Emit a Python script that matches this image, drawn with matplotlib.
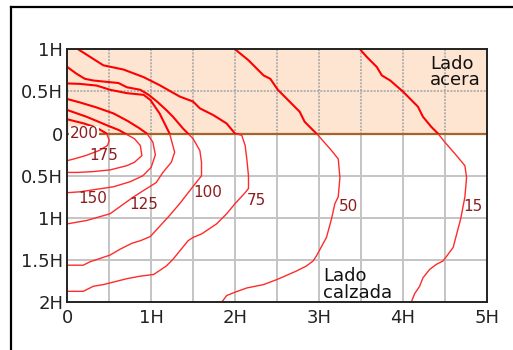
import matplotlib
matplotlib.use("Agg")
import matplotlib.pyplot as plt
from matplotlib.patches import Rectangle
from matplotlib.lines import Line2D

plt.rcParams['font.family'] = ['DejaVu Sans']

# Isolux curves: x = distance along the street (in H), d = transverse distance (in H,
# negative towards the sidewalk, positive towards the roadway)
levels = ["200", "175", "150", "125", "100", "75", "50", "15"]

x200 = [0.0, 0.20, 0.35, 0.47, 0.50, 0.48, 0.38, 0.22, 0.08, 0.0]
d200 = [-0.17, -0.12, -0.07, 0.0, 0.08, 0.14, 0.20, 0.26, 0.30, 0.32]

x175 = [0.0, 0.23, 0.47, 0.62, 0.69, 0.80, 0.87, 0.89, 0.80, 0.71, 0.51, 0.31, 0.12, 0.0]
d175 = [-0.28, -0.20, -0.10, -0.04, 0.0, 0.06, 0.14, 0.26, 0.34, 0.38, 0.43, 0.45, 0.46, 0.46]

x150 = [0.0, 0.15, 0.35, 0.55, 0.72, 0.85, 0.95, 1.02, 1.05, 1.00, 0.90, 0.75, 0.55, 0.35, 0.15, 0.0]
d150 = [-0.41, -0.37, -0.31, -0.24, -0.15, -0.07, 0.0, 0.10, 0.25, 0.40, 0.50, 0.57, 0.63, 0.66, 0.69, 0.70]

x125 = [0.0, 0.15, 0.35, 0.51, 0.71, 0.91, 0.99, 1.10, 1.22, 1.28, 1.24, 1.14, 1.06, 0.90, 0.79, 0.51, 0.23, 0.0]
d125 = [-0.595, -0.59, -0.57, -0.52, -0.48, -0.46, -0.40, -0.24, 0.0, 0.22, 0.34, 0.46, 0.58, 0.68, 0.75, 0.95, 1.03, 1.07]

x100 = [0.0, 0.11, 0.21, 0.31, 0.51, 0.61, 0.71, 0.87, 0.97, 1.07, 1.18, 1.26, 1.38, 1.44, 1.50,
        1.58, 1.60, 1.60, 1.52, 1.34, 1.22, 0.99, 0.87, 0.77, 0.63, 0.51, 0.39, 0.27, 0.19, 0.0]
d100 = [-0.79, -0.71, -0.65, -0.63, -0.61, -0.60, -0.55, -0.52, -0.46, -0.38, -0.28, -0.20, -0.06, 0.0, 0.06,
        0.20, 0.34, 0.50, 0.60, 0.83, 0.97, 1.22, 1.27, 1.30, 1.37, 1.44, 1.48, 1.52, 1.56, 1.56]

x75 = [0.13, 0.43, 0.67, 0.91, 1.10, 1.34, 1.50, 1.58, 1.74, 1.90, 2.00, 2.08, 2.12, 2.14, 2.16, 2.16,
       2.12, 2.00, 1.90, 1.78, 1.60, 1.50, 1.44, 1.26, 1.18, 1.03, 0.87, 0.71, 0.51, 0.43, 0.31, 0.19, 0.0]
d75 = [-1.0, -0.81, -0.76, -0.67, -0.575, -0.44, -0.38, -0.30, -0.22, -0.12, 0.0, 0.02, 0.14, 0.30, 0.50, 0.65,
       0.70, 0.83, 0.95, 1.07, 1.19, 1.23, 1.27, 1.49, 1.57, 1.67, 1.69, 1.72, 1.77, 1.79, 1.81, 1.87, 1.87]

x50 = [2.0, 2.16, 2.20, 2.34, 2.42, 2.51, 2.65, 2.77, 2.83, 2.99, 3.15, 3.23, 3.25, 3.23, 3.19, 3.15,
       3.09, 2.97, 2.93, 2.85, 2.73, 2.50, 2.34, 2.14, 2.0, 1.90, 1.84]
d50 = [-1.0, -0.87, -0.83, -0.69, -0.65, -0.52, -0.38, -0.26, -0.14, 0.02, 0.20, 0.30, 0.52, 0.75, 0.83, 1.01,
       1.23, 1.45, 1.51, 1.57, 1.63, 1.73, 1.79, 1.83, 1.88, 1.92, 2.0]

x15 = [3.49, 3.57, 3.69, 3.75, 3.85, 4.0, 4.18, 4.24, 4.34, 4.42, 4.50, 4.64, 4.74, 4.76, 4.74, 4.69,
       4.60, 4.48, 4.40, 4.32, 4.24, 4.20, 4.14, 4.10]
d15 = [-1.0, -0.91, -0.79, -0.69, -0.63, -0.50, -0.32, -0.20, -0.08, 0.0, 0.10, 0.26, 0.38, 0.52, 0.75, 1.01,
       1.35, 1.51, 1.55, 1.61, 1.71, 1.81, 1.90, 2.0]

curves_x = [x200, x175, x150, x125, x100, x75, x50, x15]
curves_d = [d200, d175, d150, d125, d100, d75, d50, d15]

# Label anchor points (x, d)
label_x = [0.20, 0.43, 0.30, 0.91, 1.68, 2.26, 3.35, 4.84]
label_d = [0.0, 0.26, 0.77, 0.84, 0.70, 0.79, 0.86, 0.86]

xticks = [0, 1, 2, 3, 4, 5]
xtick_labels = ["0", "1H", "2H", "3H", "4H", "5H"]
yticks = [-1, -0.5, 0, 0.5, 1, 1.5, 2]
ytick_labels = ["1H", "0.5H", "0", "0.5H", "1H", "1.5H", "2H"]

W, H = 513, 350
fig = plt.figure(figsize=(W / 100, H / 100), dpi=100)
fig.patch.set_facecolor("white")

# outer frame (open to the right and bottom)
fig.add_artist(Line2D([11 / W, 11 / W], [1 - 7 / H, 0], color="black", lw=1.6))
fig.add_artist(Line2D([11 / W, 1], [1 - 7 / H, 1 - 7 / H], color="black", lw=1.6))

ax = fig.add_axes([67.3 / W, 1 - 302.3 / H, (486.7 - 67.3) / W, (302.3 - 49.3) / H])
ax.set_xlim(0, 5)
ax.set_ylim(2, -1)

# sidewalk band
ax.add_patch(Rectangle((0, -1), 5, 1, facecolor="#fde5d2", edgecolor="none", zorder=0))

# grid
for gx in [0.5, 1, 1.5, 2, 2.5, 3, 3.5, 4, 4.5]:
    ax.plot([gx, gx], [0, 2], color="#c4c4c4", lw=1.4, zorder=1)
    ax.plot([gx, gx], [-1, 0], color="#a8a8a8", lw=1.2, ls=(0, (1.2, 0.8)), zorder=1)
for gy in [0.5, 1, 1.5]:
    ax.plot([0, 5], [gy, gy], color="#c4c4c4", lw=1.4, zorder=1)
ax.plot([0, 5], [-0.5, -0.5], color="#a8a8a8", lw=1.2, ls=(0, (1.2, 0.8)), zorder=1)
ax.plot([0, 5], [0, 0], color="#a5652a", lw=1.6, zorder=2)

top_clip = Rectangle((0, -1), 5, 1, transform=ax.transData)
bot_clip = Rectangle((0, 0), 5, 2, transform=ax.transData)
for cx, cd in zip(curves_x, curves_d):
    l1, = ax.plot(cx, cd, color="#ff0000", lw=1.5, zorder=3)
    l1.set_clip_path(top_clip)
    l2, = ax.plot(cx, cd, color="#ff2a2a", lw=1.0, zorder=3)
    l2.set_clip_path(bot_clip)

for lab, lx, ld in zip(levels, label_x, label_d):
    ax.text(lx, ld, lab, color="#8c1d1d", fontsize=11, ha="center", va="center", zorder=4,
            bbox=dict(facecolor="white", edgecolor="none", pad=0.3) if lab == "200" else None)

ax.text(4.93, -0.58, "Lado\nacera", fontsize=13, ha="right", va="baseline", color="#111111",
        linespacing=0.85, multialignment="left", zorder=4)
ax.text(3.05, 1.95, "Lado\ncalzada", fontsize=13, ha="left", va="baseline", color="#111111",
        linespacing=0.95, zorder=4)

ax.set_xticks(xticks)
ax.set_xticklabels(xtick_labels)
ax.set_yticks(yticks)
ax.set_yticklabels(ytick_labels)
ax.tick_params(length=0, labelsize=13, colors="#222222", pad=3)
ax.tick_params(axis="x", pad=5)
for s in ax.spines.values():
    s.set_color("#222222")
    s.set_linewidth(1.4)
    s.set_zorder(5)

fig.savefig("out.png", dpi=100)
